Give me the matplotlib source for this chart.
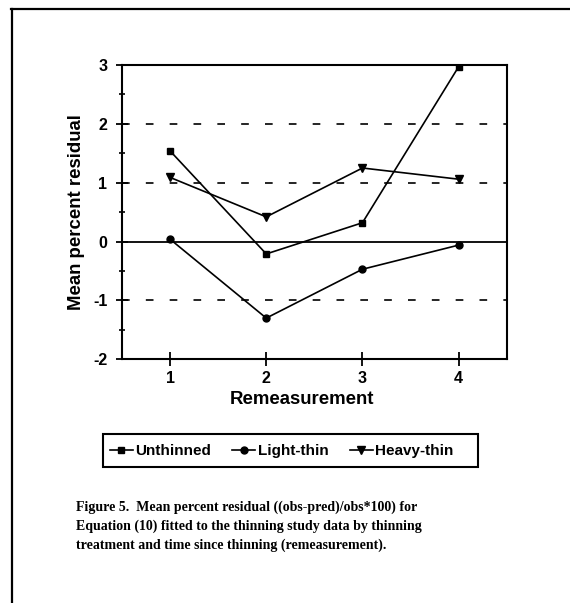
import numpy as np
import matplotlib
matplotlib.use("Agg")
from matplotlib import pyplot as plt
from matplotlib.lines import Line2D
from matplotlib.patches import Rectangle

remeasurement = [1, 2, 3, 4]
unthinned = [1.54, -0.21, 0.32, 2.97]
light_thin = [0.04, -1.30, -0.47, -0.06]
heavy_thin = [1.09, 0.42, 1.25, 1.06]
series_names = ["Unthinned", "Light-thin", "Heavy-thin"]
caption = ("Figure 5.  Mean percent residual ((obs-pred)/obs*100) for\n"
           "Equation (10) fitted to the thinning study data by thinning\n"
           "treatment and time since thinning (remeasurement).")

W, H = 570, 603
plt.rcParams['font.family'] = 'Liberation Sans'
plt.rcParams['font.weight'] = 'bold'
plt.rcParams['axes.unicode_minus'] = False

fig = plt.figure(figsize=(W / 100, H / 100), dpi=100)

# page border (top and left)
fig.add_artist(Line2D([11 / W, 1.0], [1 - 9 / H, 1 - 9 / H], color='black', lw=1.6,
                      transform=fig.transFigure))
fig.add_artist(Line2D([12 / W, 12 / W], [1 - 9 / H, 0.0], color='black', lw=1.6,
                      transform=fig.transFigure))

ax = fig.add_axes([122 / W, 1 - 359.3 / H, (506.7 - 122) / W, (359.3 - 65) / H])

# dashed reference lines and the solid zero line
for y in [2, 1, -1]:
    ax.axhline(y, color='black', lw=1.2, dashes=(4.6, 9.7), zorder=1)
ax.axhline(0, color='black', lw=1.3, zorder=1)

ax.plot(remeasurement, unthinned, color='black', lw=1.2, marker='s', ms=5, label=series_names[0], zorder=3)
ax.plot(remeasurement, light_thin, color='black', lw=1.2, marker='o', ms=5, label=series_names[1], zorder=3)
ax.plot(remeasurement, heavy_thin, color='black', lw=1.2, marker='v', ms=6, label=series_names[2], zorder=3)

ax.set_xlim(0.5, 4.5)
ax.set_ylim(-2, 3)
ax.set_xticks(remeasurement)
ax.set_yticks([-2, -1, 0, 1, 2, 3])
ax.set_yticks(np.arange(-1.5, 3, 1.0), minor=True)
ax.tick_params(axis='x', direction='inout', length=9.5, width=1.3, labelsize=11.5, pad=4)
ax.tick_params(axis='y', which='major', direction='inout', length=9, width=1.3, labelsize=11.5, pad=6)
ax.tick_params(axis='y', which='minor', direction='inout', length=5, width=1.2)
for lab in ax.get_xticklabels() + ax.get_yticklabels():
    lab.set_fontweight('bold')
for s in ax.spines.values():
    s.set_linewidth(1.5)

ax.set_xlabel('Remeasurement', fontsize=13.4, fontweight='bold')
ax.xaxis.set_label_coords((302 - 122) / (506.7 - 122), -0.108)
ax.set_ylabel('Mean percent residual', fontsize=13.4, fontweight='bold', labelpad=5.5)

# legend entries, with a plain box around them
leg = fig.legend(loc='center left', bbox_to_anchor=(110 / W, 1 - 451 / H), ncol=3,
                 frameon=False, handlelength=1.5, handletextpad=0.15, columnspacing=1.4,
                 borderpad=0, borderaxespad=0,
                 prop={'family': 'Liberation Sans', 'weight': 'bold', 'size': 11})
fig.add_artist(Rectangle((103 / W, 1 - 467 / H), (478 - 103) / W, (467 - 434) / H,
                         transform=fig.transFigure, fill=False, edgecolor='black', lw=1.5))

fig.text(76.5 / W, 1 - 501 / H, caption, ha='left', va='top', fontsize=10,
         family='Liberation Serif', fontweight='bold', linespacing=1.5)

fig.savefig('out.png', dpi=100)
